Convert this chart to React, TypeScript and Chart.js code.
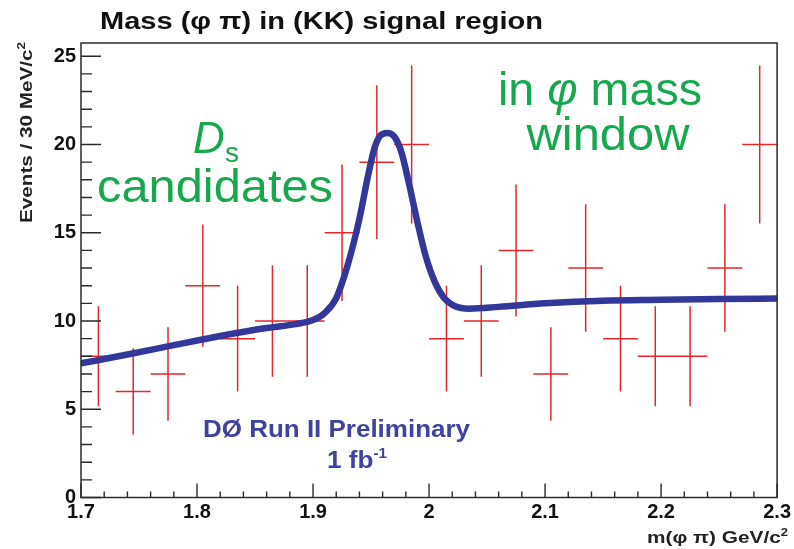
import React, { useEffect, useRef } from "react";
import { Chart, registerables } from "chart.js";

Chart.register(...registerables);

// ---- data ----
const binCenters = [1.715, 1.745, 1.775, 1.805, 1.835, 1.865, 1.895, 1.925, 1.955, 1.985, 2.015, 2.045, 2.075, 2.105, 2.135, 2.165, 2.195, 2.225, 2.255, 2.285];
const binHalfWidth = 0.015;
const counts = [8, 6, 7, 12, 9, 10, 10, 15, 19, 20, 9, 10, 14, 7, 13, 9, 8, 8, 13, 20];
const errors = [2.83, 2.45, 2.65, 3.46, 3.0, 3.16, 3.16, 3.87, 4.36, 4.47, 3.0, 3.16, 3.74, 2.65, 3.61, 3.0, 2.83, 2.83, 3.61, 4.47];

const fitX = [1.700, 1.740, 1.780, 1.820, 1.860, 1.885, 1.900, 1.910, 1.920, 1.930, 1.940, 1.947, 1.953, 1.958, 1.964, 1.970, 1.976, 1.983, 1.990, 1.997, 2.005, 2.013, 2.022, 2.035, 2.060, 2.100, 2.150, 2.200, 2.250, 2.300];
const fitY = [7.6, 8.1, 8.63, 9.15, 9.6, 9.82, 10.05, 10.45, 11.3, 13.2, 15.8, 18.1, 19.8, 20.5, 20.65, 20.45, 19.6, 17.7, 15.6, 13.7, 12.2, 11.3, 10.85, 10.7, 10.8, 11.0, 11.15, 11.2, 11.25, 11.27];

const xMajorTicks = [1.7, 1.8, 1.9, 2.0, 2.1, 2.2, 2.3];
const yMajorTicks = [0, 5, 10, 15, 20, 25];
const xMinorStep = 0.02;
const yMinorStep = 1;
const xRange = [1.7, 2.3];
const yRange = [0, 25.75];

const titleText = "Mass (\u03c6 \u03c0) in (KK) signal region";
const yTitleText = "Events / 30 MeV/c";
const xTitleText = "m(\u03c6 \u03c0) GeV/c";

// ---- style ----
const RED = "#e5262b";
const BLUE_LINE = "#34379a";
const BLUE_TEXT = "#3f429e";
const GREEN = "#17a84e";
const FRAME = "#2a2a2a";
const SANS = "'Liberation Sans', Arial, sans-serif";

type Run = { text: string; font: string; dy?: number };

function drawRuns(
  ctx: CanvasRenderingContext2D,
  runs: Run[],
  x: number,
  baseline: number,
  align: "left" | "center" | "right",
  color: string,
  targetWidth?: number
) {
  ctx.save();
  ctx.fillStyle = color;
  ctx.textBaseline = "alphabetic";
  ctx.textAlign = "left";
  let total = 0;
  const widths = runs.map((r) => {
    ctx.font = r.font;
    const w = ctx.measureText(r.text).width;
    total += w;
    return w;
  });
  const s = targetWidth ? targetWidth / total : 1;
  const full = total * s;
  let start = x;
  if (align === "center") start = x - full / 2;
  if (align === "right") start = x - full;
  ctx.translate(start, baseline);
  ctx.scale(s, 1);
  let cx = 0;
  runs.forEach((r, i) => {
    ctx.font = r.font;
    ctx.fillText(r.text, cx, r.dy || 0);
    cx += widths[i];
  });
  ctx.restore();
}

const framePlugin = {
  id: "rootFrame",
  afterDatasetsDraw(chart: any) {
    const { ctx, chartArea } = chart;
    const xs = chart.scales.x;
    const ys = chart.scales.y;
    const { left, right, top, bottom } = chartArea;
    ctx.save();
    ctx.strokeStyle = FRAME;
    ctx.lineWidth = 1.5;
    ctx.strokeRect(left, top, right - left, bottom - top);
    ctx.lineWidth = 1.4;
    ctx.beginPath();
    // x ticks (inside, from bottom)
    const nx = Math.round((xRange[1] - xRange[0]) / xMinorStep);
    for (let i = 0; i <= nx; i++) {
      const v = xRange[0] + i * xMinorStep;
      const px = xs.getPixelForValue(v);
      const major = xMajorTicks.some((t) => Math.abs(t - v) < 1e-6);
      ctx.moveTo(px, bottom);
      ctx.lineTo(px, bottom - (major ? 14 : 6));
    }
    // y ticks (inside, from left)
    for (let v = yRange[0]; v <= yRange[1] + 1e-9; v += yMinorStep) {
      const py = ys.getPixelForValue(v);
      const major = yMajorTicks.some((t) => Math.abs(t - v) < 1e-6);
      ctx.moveTo(left, py);
      ctx.lineTo(left + (major ? 20 : 11), py);
    }
    ctx.stroke();
    ctx.restore();
  },
  afterDraw(chart: any) {
    const ctx: CanvasRenderingContext2D = chart.ctx;
    // Title
    drawRuns(ctx, [{ text: titleText, font: `bold 23px ${SANS}` }], 100, 28.5, "left", "#111", 443);

    // Y axis title (rotated)
    ctx.save();
    ctx.translate(32, 42);
    ctx.rotate(-Math.PI / 2);
    drawRuns(
      ctx,
      [
        { text: yTitleText, font: `bold 17px ${SANS}` },
        { text: "2", font: `bold 11px ${SANS}`, dy: -7 },
      ],
      0,
      0,
      "right",
      "#222",
      181
    );
    ctx.restore();

    // X axis title
    drawRuns(
      ctx,
      [
        { text: xTitleText, font: `bold 16px ${SANS}` },
        { text: "2", font: `bold 10px ${SANS}`, dy: -7 },
      ],
      788,
      543,
      "right",
      "#222",
      141
    );

    // Green annotations
    drawRuns(
      ctx,
      [
        { text: "D", font: `italic 44px ${SANS}` },
        { text: "s", font: `28px ${SANS}`, dy: 9 },
      ],
      216,
      153,
      "center",
      GREEN
    );
    drawRuns(ctx, [{ text: "candidates", font: `47px ${SANS}` }], 215, 202, "center", GREEN, 236);
    drawRuns(
      ctx,
      [
        { text: "in ", font: `47px ${SANS}` },
        { text: "\u03c6", font: `italic 47px ${SANS}` },
        { text: " mass", font: `47px ${SANS}` },
      ],
      600,
      105,
      "center",
      GREEN,
      204
    );
    drawRuns(ctx, [{ text: "window", font: `47px ${SANS}` }], 608, 150, "center", GREEN, 163);

    // Blue experiment label
    drawRuns(ctx, [{ text: "D\u00d8 Run II Preliminary", font: `bold 24px ${SANS}` }], 203, 437, "left", BLUE_TEXT, 267);
    drawRuns(
      ctx,
      [
        { text: "1 fb", font: `bold 24px ${SANS}` },
        { text: "-1", font: `bold 14px ${SANS}`, dy: -10 },
      ],
      327,
      468,
      "left",
      BLUE_TEXT,
      60
    );
  },
};

export default function App() {
  const canvasRef = useRef<HTMLCanvasElement | null>(null);

  useEffect(() => {
    if (!canvasRef.current) return;

    const errData: { x: number; y: number | null }[] = [];
    binCenters.forEach((c, i) => {
      errData.push({ x: c - binHalfWidth, y: counts[i] });
      errData.push({ x: c + binHalfWidth, y: counts[i] });
      errData.push({ x: c + binHalfWidth, y: null });
      errData.push({ x: c, y: counts[i] - errors[i] });
      errData.push({ x: c, y: counts[i] + errors[i] });
      errData.push({ x: c, y: null });
    });
    const fitData = fitX.map((x, i) => ({ x, y: fitY[i] }));

    const chart = new Chart(canvasRef.current, {
      type: "line",
      data: {
        datasets: [
          {
            label: "fit",
            data: fitData,
            borderColor: BLUE_LINE,
            borderWidth: 6.5,
            borderCapStyle: "round",
            borderJoinStyle: "round",
            cubicInterpolationMode: "monotone",
            pointRadius: 0,
            fill: false,
            order: 0,
          } as any,
          {
            label: "data",
            data: errData,
            borderColor: RED,
            borderWidth: 1.5,
            pointRadius: 0,
            spanGaps: false,
            tension: 0,
            fill: false,
            order: 1,
          } as any,
        ],
      },
      options: {
        animation: false,
        responsive: false,
        layout: { padding: { top: 43, right: 15, left: 0, bottom: 0 } },
        plugins: {
          legend: { display: false },
          tooltip: { enabled: false },
          title: { display: false },
        },
        scales: {
          x: {
            type: "linear",
            min: xRange[0],
            max: xRange[1],
            grid: { display: false, drawTicks: false },
            border: { display: false },
            afterBuildTicks: (scale: any) => {
              scale.ticks = xMajorTicks.map((v) => ({ value: v }));
            },
            afterFit: (scale: any) => {
              scale.height = 51.5;
            },
            ticks: {
              autoSkip: false,
              maxRotation: 0,
              minRotation: 0,
              padding: 3,
              color: "#111",
              font: { family: SANS, size: 20, weight: "bold" },
              callback: (v: any) => `${+(+v).toFixed(1)}`,
            },
          },
          y: {
            type: "linear",
            min: yRange[0],
            max: yRange[1],
            grid: { display: false, drawTicks: false },
            border: { display: false },
            afterBuildTicks: (scale: any) => {
              scale.ticks = yMajorTicks.map((v) => ({ value: v }));
            },
            afterFit: (scale: any) => {
              scale.width = 81;
            },
            ticks: {
              autoSkip: false,
              padding: 5,
              color: "#111",
              font: { family: SANS, size: 20, weight: "bold" },
              callback: (v: any) => `${v}`,
            },
          },
        },
      } as any,
      plugins: [framePlugin],
    });

    return () => chart.destroy();
  }, []);

  return (
    <div style={{ position: "fixed", left: 0, top: 0, width: 794, height: 549, background: "#fff" }}>
      <canvas ref={canvasRef} width={794} height={549} style={{ display: "block" }} />
    </div>
  );
}
